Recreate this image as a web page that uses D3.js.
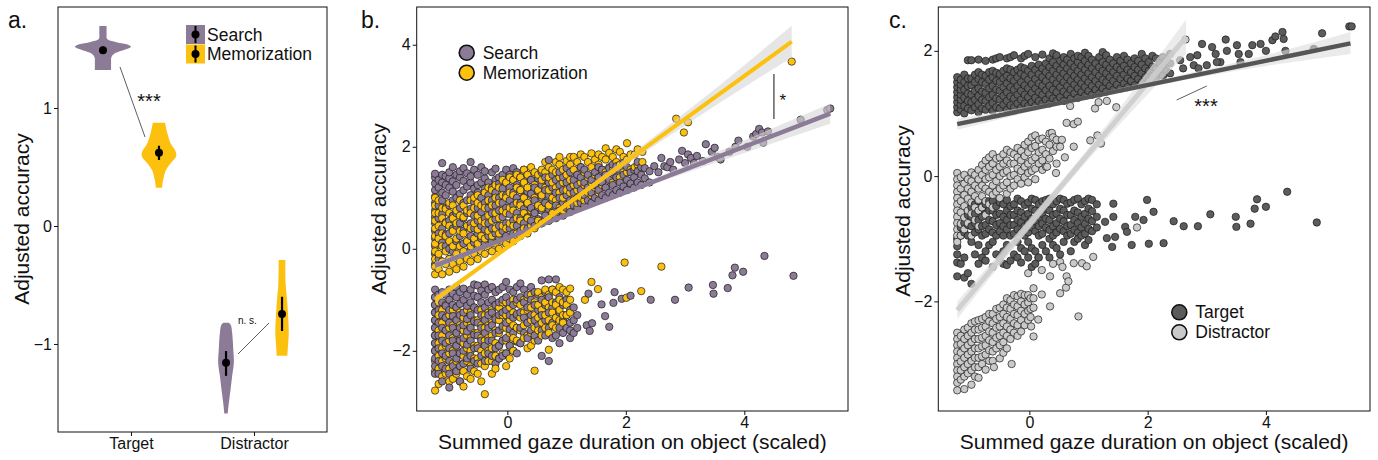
<!DOCTYPE html>
<html>
<head>
<meta charset="utf-8">
<script src="https://cdn.jsdelivr.net/npm/d3@7"></script>
<style>
body { margin: 0; background: #fff; }
text { font-family: "Liberation Sans", Arial, Helvetica, sans-serif; fill: #111; }
</style>
</head>
<body>
<script>
const width = 1378;
const height = 460;
const svg = d3.select('body').append('svg').attr('width', width).attr('height', height);

const colSearch = '#8c7b96';
const colMemo = '#fcc10f';
const colTarget = '#5c5c5c';
const colDistr = '#cacaca';

// ---------------- panel a data ----------------
const aConds = ['Target', 'Distractor'];
const aGroups = ['Search', 'Memorization'];
const aYTicks = [-1, 0, 1];
// [value, relative density]
const violinTargetSearch = [[1.695,0.13],[1.63,0.13],[1.585,0.15],[1.56,0.45],[1.54,0.85],[1.52,1.0],[1.5,0.85],[1.48,0.6],[1.455,0.38],[1.43,0.3],[1.38,0.29],[1.322,0.29]];
const violinTargetMemo = [[0.875,0.22],[0.785,0.3],[0.70,0.42],[0.63,0.6],[0.588,0.61],[0.532,0.42],[0.475,0.25],[0.39,0.15],[0.325,0.11]];
const violinDistrSearch = [[-0.82,0.1],[-0.84,0.17],[-0.91,0.22],[-1.05,0.26],[-1.16,0.28],[-1.27,0.22],[-1.39,0.16],[-1.5,0.1],[-1.59,0.06]];
const violinDistrMemo = [[-0.288,0.12],[-0.486,0.13],[-0.628,0.18],[-0.77,0.22],[-0.91,0.24],[-1.025,0.21],[-1.10,0.19]];
const aMeans = [
  {cond: 'Target', group: 'Search', mean: 1.49, lo: 1.46, hi: 1.52},
  {cond: 'Target', group: 'Memorization', mean: 0.62, lo: 0.56, hi: 0.68},
  {cond: 'Distractor', group: 'Search', mean: -1.16, lo: -1.27, hi: -1.06},
  {cond: 'Distractor', group: 'Memorization', mean: -0.745, lo: -0.89, hi: -0.60}
];

// ---------------- panel b data ----------------
// columns: [x, [y values]]
const bSearchUpCols = [
  [-1.22,[-0.3,-0.1,0.05,0.2,0.35,0.5,0.62,0.75,0.9,1.02,1.15,1.28,1.4,1.47]],
  [-1.16,[-0.2,0.3,0.6,0.85,1.2,1.35]],
  [-1.1,[-0.25,0.12,0.4,0.68,0.95,1.1,1.3,1.45,1.68]],
  [-1.04,[0.05,0.28,0.52,0.8,1.05,1.25,1.42]],
  [-0.98,[-0.2,0.0,0.3,0.55,0.85,1.2,1.38,1.5]],
  [-0.92,[-0.05,0.4,0.65,0.95,1.12,1.32,1.6]],
  [-0.86,[-0.15,0.15,0.45,0.7,1.0,1.25,1.45]],
  [-0.8,[0.05,0.25,0.5,0.8,1.08,1.4,1.52]],
  [-0.74,[-0.1,0.1,0.35,0.6,0.9,1.15,1.33,1.58]],
  [-0.68,[0.15,0.45,0.7,0.95,1.22,1.48]],
  [-0.62,[0.0,0.25,0.5,0.78,1.05,1.3,1.42,1.7]],
  [-0.56,[0.12,0.4,0.65,0.92,1.18,1.55]],
  [-0.5,[0.05,0.3,0.55,0.8,1.1,1.25,1.45]],
  [-0.44,[0.2,0.45,0.72,1.0,1.3,1.6]],
  [-0.38,[0.1,0.38,0.6,0.9,1.18,1.38,1.52]],
  [-0.32,[0.25,0.5,0.8,1.05,1.3]],
  [-0.26,[0.15,0.4,0.7,0.95,1.2,1.5]],
  [-0.2,[0.3,0.58,0.85,1.1,1.35,1.57]],
  [-0.14,[0.2,0.45,0.75,1.0,1.28,1.4]],
  [-0.08,[0.35,0.62,0.9,1.18,1.45]],
  [-0.02,[0.25,0.5,0.8,1.05,1.3,1.55]],
  [0.04,[0.4,0.68,0.95,1.2,1.45]],
  [0.1,[0.3,0.55,0.85,1.1,1.35,1.58]],
  [0.16,[0.45,0.7,1.0,1.25,1.5]],
  [0.22,[0.35,0.6,0.9,1.15,1.4]],
  [0.28,[0.5,0.78,1.02,1.3,1.55]],
  [0.34,[0.4,0.62,0.88,1.12,1.45]],
  [0.4,[0.55,0.8,1.08,1.35]],
  [0.46,[0.45,0.7,0.95,1.2]],
  [0.52,[0.58,0.85,1.12,1.38]],
  [0.58,[0.5,0.75,1.0,1.25,1.5]],
  [0.64,[0.65,0.9,1.15,1.4]],
  [0.7,[0.55,0.78,1.05,1.3,1.74]],
  [0.76,[0.7,0.95,1.2,1.45]],
  [0.82,[0.6,0.85,1.1,1.35]],
  [0.88,[0.75,1.0,1.25,1.5]],
  [0.94,[0.65,0.9,1.15,1.4]],
  [1.0,[0.8,1.05,1.3,1.58]],
  [1.06,[0.72,0.95,1.2,1.5]],
  [1.12,[0.85,1.1,1.35]],
  [1.18,[0.8,1.0,1.25,1.45]],
  [1.24,[0.9,1.15,1.4,1.6]],
  [1.3,[0.85,1.05,1.3,1.55]],
  [1.36,[0.95,1.2,1.45]],
  [1.42,[0.9,1.1,1.35]],
  [1.48,[1.0,1.25,1.5]],
  [1.54,[0.95,1.15,1.4,1.6]],
  [1.6,[1.05,1.3,1.55]],
  [1.66,[1.0,1.2,1.45]],
  [1.72,[1.1,1.35,1.58]],
  [1.78,[1.05,1.25,1.5,1.65]],
  [1.84,[1.15,1.4,1.62]],
  [1.9,[1.1,1.3,1.55]],
  [1.96,[1.22,1.45,1.68]],
  [2.02,[1.15,1.35,1.6]],
  [2.08,[1.28,1.5]],
  [2.14,[1.2,1.4,1.55]],
  [2.2,[1.3,1.52,1.7]],
  [2.26,[1.25,1.45,1.6]],
  [2.32,[1.38,1.58]],
  [2.4,[1.3,1.52]]
];
const bSearchUpExtra = [[2.55,1.5],[2.65,1.62],[2.75,1.7],[2.8,1.55],[2.9,1.75],[2.95,1.92],[3.05,1.85],[3.15,1.68],[3.2,1.82],[3.3,1.72],[3.35,2.05],[3.45,1.9],[3.5,1.98],[3.55,1.8],[3.6,1.75],[3.75,1.9],[3.85,2.0],[3.9,2.12],[4.05,2.0],[4.15,2.2],[4.2,2.25],[4.25,2.35],[4.3,2.28],[4.32,2.08],[4.4,2.3],[4.95,2.53],[5.4,2.72],[5.45,2.75],[2.48,1.62],[2.6,1.78],[2.7,1.6],[3.0,1.68],[3.1,1.78]];
const bSearchLoCols = [
  [-1.22,[-0.8,-0.95,-1.1,-1.25,-1.4,-1.55,-1.7,-1.85,-2.0,-2.15,-2.3,-2.45]],
  [-1.16,[-0.9,-1.2,-1.45,-1.7,-1.95,-2.2,-2.45]],
  [-1.1,[-0.85,-1.05,-1.3,-1.55,-1.8,-2.05,-2.3,-2.6]],
  [-1.04,[-0.9,-1.12,-1.35,-1.6,-1.85,-2.1,-2.35]],
  [-0.98,[-0.8,-1.0,-1.2,-1.45,-1.7,-1.95,-2.2,-2.45,-2.72]],
  [-0.92,[-0.88,-1.1,-1.32,-1.55,-1.8,-2.05,-2.3]],
  [-0.86,[-0.75,-0.95,-1.15,-1.4,-1.65,-1.9,-2.15,-2.4]],
  [-0.8,[-0.85,-1.08,-1.3,-1.55,-1.8,-2.05,-2.3,-2.6]],
  [-0.74,[-0.78,-1.0,-1.25,-1.5,-1.75,-2.0,-2.25]],
  [-0.68,[-0.9,-1.12,-1.38,-1.62,-1.88,-2.15]],
  [-0.62,[-0.8,-1.05,-1.3,-1.55,-1.8,-2.1,-2.35]],
  [-0.56,[-0.7,-0.92,-1.15,-1.42,-1.68,-1.95,-2.2]],
  [-0.5,[-0.72,-0.95,-1.2,-1.45,-1.7,-1.95,-2.25]],
  [-0.44,[-0.82,-1.05,-1.3,-1.55,-1.8,-2.1]],
  [-0.38,[-0.7,-0.9,-1.15,-1.4,-1.65,-1.9,-2.2]],
  [-0.32,[-0.8,-1.05,-1.3,-1.55,-1.8,-2.05]],
  [-0.26,[-0.75,-1.0,-1.25,-1.5,-1.8,-2.1]],
  [-0.2,[-0.85,-1.1,-1.38,-1.65,-1.95,-2.25]],
  [-0.14,[-0.8,-1.05,-1.3,-1.6,-1.9,-2.15]],
  [-0.08,[-0.75,-1.0,-1.25,-1.52,-1.8,-2.1]],
  [-0.02,[-0.65,-0.95,-1.2,-1.45,-1.75,-2.05]],
  [0.04,[-0.8,-1.05,-1.3,-1.58,-1.9]],
  [0.1,[-0.85,-1.1,-1.35,-1.65,-2.0]],
  [0.16,[-0.75,-1.0,-1.28,-1.55,-1.82,-2.05]],
  [0.22,[-0.68,-0.95,-1.25,-1.55,-1.85]],
  [0.28,[-0.8,-1.05,-1.35,-1.65]],
  [0.34,[-0.9,-1.15,-1.45,-1.75]],
  [0.4,[-0.75,-1.0,-1.3,-1.6]],
  [0.46,[-0.85,-1.1,-1.4,-1.7]],
  [0.52,[-0.9,-1.2,-1.5,-1.8]],
  [0.58,[-0.62,-1.0,-1.3,-1.6,-2.1]],
  [0.64,[-0.85,-1.1,-1.4,-1.7]],
  [0.7,[-0.6,-0.95,-1.25,-1.55,-2.2]],
  [0.76,[-0.8,-1.15,-1.45,-1.75]],
  [0.82,[-0.6,-1.05,-1.35,-1.7]],
  [0.88,[-0.95,-1.25,-1.55,-1.85]],
  [0.94,[-1.1,-1.4,-1.65]],
  [1.0,[-1.0,-1.3,-1.55]],
  [1.06,[-1.2,-1.45,-1.75,-1.6]],
  [1.12,[-1.15,-1.4,-1.65]],
  [1.18,[-1.3,-1.55]]
];
const bSearchLoExtra = [[1.37,-0.88],[1.34,-1.5],[1.39,-1.61],[1.43,-1.46],[1.59,-1.09],[1.65,-1.32],[1.72,-1.53],[1.79,-1.06],[1.81,-0.85],[1.93,-0.98],[2.08,-0.92],[2.42,-1.0],[2.83,-1.0],[3.06,-0.76],[3.47,-0.71],[3.48,-0.88],[3.72,-0.77],[3.8,-0.52],[3.84,-0.37],[3.98,-0.45],[4.34,-0.14],[4.83,-0.53]];
const bMemoUpCols = [
  [-1.22,[-0.5,-0.35,-0.2,-0.05,0.1,0.25,0.4,0.55,0.7,0.85,1.0]],
  [-1.16,[-0.4,-0.1,0.2,0.45,0.7,0.95]],
  [-1.1,[-0.5,-0.25,0.05,0.3,0.6,0.8]],
  [-1.04,[-0.3,-0.05,0.25,0.5,0.78]],
  [-0.98,[-0.45,-0.2,0.15,0.45,0.7,0.9]],
  [-0.92,[-0.3,0.05,0.35,0.6,0.85]],
  [-0.86,[-0.4,-0.1,0.2,0.5,0.75]],
  [-0.8,[-0.25,0.05,0.35,0.65,0.95]],
  [-0.74,[-0.35,-0.05,0.3,0.62,0.85]],
  [-0.68,[-0.2,0.15,0.45,0.75]],
  [-0.62,[-0.25,0.05,0.4,0.7,0.95]],
  [-0.56,[-0.1,0.2,0.5,0.8,1.0]],
  [-0.5,[-0.2,0.1,0.38,0.65,0.9,1.05]],
  [-0.44,[-0.05,0.25,0.55,0.85]],
  [-0.38,[-0.1,0.2,0.5,0.8,1.1]],
  [-0.32,[0.05,0.35,0.65,0.95,1.2]],
  [-0.26,[-0.05,0.25,0.55,0.85,1.15]],
  [-0.2,[0.1,0.4,0.7,1.0,1.25]],
  [-0.14,[0.0,0.3,0.6,0.9,1.2]],
  [-0.08,[0.15,0.45,0.75,1.05,1.35]],
  [-0.02,[0.1,0.4,0.7,1.0,1.3]],
  [0.04,[0.2,0.5,0.8,1.1,1.4]],
  [0.1,[0.15,0.45,0.75,1.05,1.35]],
  [0.16,[0.3,0.6,0.9,1.2,1.45]],
  [0.22,[0.25,0.55,0.85,1.15,1.4]],
  [0.28,[0.4,0.7,1.0,1.3,1.55]],
  [0.34,[0.3,0.6,0.9,1.2,1.45]],
  [0.4,[0.45,0.75,1.05,1.35,1.6]],
  [0.46,[0.4,0.7,1.0,1.25,1.5]],
  [0.52,[0.55,0.85,1.15,1.45]],
  [0.58,[0.5,0.8,1.05,1.35,1.55]],
  [0.64,[0.6,0.9,1.2,1.5,1.7]],
  [0.7,[0.55,0.85,1.15,1.4,1.6]],
  [0.76,[0.7,1.0,1.3,1.55]],
  [0.82,[0.65,0.95,1.2,1.5,1.7]],
  [0.88,[0.8,1.1,1.4,1.65,1.8]],
  [0.94,[0.75,1.0,1.3,1.55]],
  [1.0,[0.85,1.15,1.45,1.72]],
  [1.06,[0.8,1.1,1.35,1.65,1.8]],
  [1.12,[0.95,1.25,1.55,1.8]],
  [1.18,[0.9,1.15,1.45,1.7]],
  [1.24,[1.0,1.3,1.6,1.85]],
  [1.3,[0.95,1.25,1.5,1.8]],
  [1.36,[1.1,1.4,1.7]],
  [1.42,[1.05,1.3,1.6,1.87]],
  [1.48,[1.2,1.45,1.75]],
  [1.54,[1.1,1.4,1.65,1.85]],
  [1.6,[1.25,1.55,1.8]],
  [1.66,[1.2,1.5,1.75,1.97]],
  [1.72,[1.35,1.6,1.88]],
  [1.78,[1.3,1.55,1.8]],
  [1.84,[1.4,1.7,1.95]],
  [1.9,[1.4,1.65,1.9]],
  [1.96,[1.5,1.8]],
  [2.02,[1.5,1.75,2.07]],
  [2.08,[1.55,1.85]],
  [2.15,[1.6,1.85]],
  [2.2,[1.65,1.95]],
  [2.28,[1.7,1.9]]
];
const bMemoUpExtra = [[2.85,2.55],[3.05,2.48],[2.98,2.28],[4.8,3.67]];
const bMemoLoCols = [
  [-1.22,[-0.95,-1.1,-1.25,-1.4,-1.55,-1.7,-1.85,-2.0,-2.2,-2.4,-2.78]],
  [-1.16,[-1.05,-1.3,-1.6,-1.85,-2.1,-2.35,-2.65]],
  [-1.1,[-1.2,-1.45,-1.7,-1.95,-2.2,-2.5]],
  [-1.04,[-1.1,-1.35,-1.6,-1.9,-2.15,-2.45]],
  [-0.98,[-1.3,-1.55,-1.8,-2.05,-2.35,-2.6]],
  [-0.92,[-1.2,-1.5,-1.75,-2.0,-2.25,-2.55]],
  [-0.86,[-1.15,-1.4,-1.65,-1.9,-2.2,-2.45]],
  [-0.8,[-1.25,-1.5,-1.8,-2.05,-2.3,-2.6]],
  [-0.74,[-1.35,-1.6,-1.85,-2.1,-2.4,-2.7]],
  [-0.68,[-1.2,-1.45,-1.7,-1.95,-2.2,-2.5]],
  [-0.62,[-1.25,-1.5,-1.75,-2.0,-2.3,-2.55]],
  [-0.56,[-1.15,-1.4,-1.65,-1.9,-2.15,-2.4]],
  [-0.5,[-1.4,-1.65,-1.9,-2.15,-2.45]],
  [-0.44,[-1.2,-1.5,-1.75,-2.0,-2.25,-2.6]],
  [-0.38,[-1.3,-1.55,-1.8,-2.05,-2.3,-2.85]],
  [-0.32,[-1.25,-1.5,-1.75,-2.0,-2.2]],
  [-0.26,[-1.2,-1.45,-1.7,-1.95,-2.2,-2.45]],
  [-0.2,[-1.1,-1.35,-1.6,-1.85,-2.1,-2.35]],
  [-0.14,[-1.15,-1.4,-1.65,-1.9,-2.15]],
  [-0.08,[-1.05,-1.3,-1.55,-1.8,-2.05]],
  [-0.02,[-1.05,-1.3,-1.55,-1.8,-2.05,-2.3]],
  [0.04,[-1.15,-1.4,-1.65,-1.9,-2.15]],
  [0.1,[-1.0,-1.25,-1.5,-1.75,-2.0]],
  [0.16,[-1.05,-1.3,-1.55,-1.8]],
  [0.22,[-1.1,-1.35,-1.6,-1.85]],
  [0.28,[-1.0,-1.25,-1.5,-1.75]],
  [0.34,[-0.95,-1.2,-1.45,-1.7,-1.95]],
  [0.4,[-0.9,-1.15,-1.4,-1.65,-1.9]],
  [0.46,[-1.05,-1.3,-1.55,-1.8,-2.39]],
  [0.52,[-0.85,-1.1,-1.35,-1.6]],
  [0.58,[-0.95,-1.2,-1.45,-1.7]],
  [0.64,[-0.8,-1.05,-1.3,-1.55]],
  [0.7,[-0.9,-1.15,-1.4,-1.65,-1.98]],
  [0.76,[-0.8,-1.05,-1.25,-1.5]],
  [0.82,[-0.85,-1.1,-1.35,-1.55]],
  [0.88,[-0.75,-1.0,-1.2,-1.4]],
  [0.94,[-0.8,-1.05,-1.3,-1.45]],
  [1.0,[-0.85,-1.1,-1.3]],
  [1.06,[-0.78,-1.0,-1.25]]
];
const bMemoLoExtra = [[1.31,-1.0],[1.42,-0.65],[1.53,-0.79],[1.98,-0.27],[2.01,-0.96],[2.26,-0.83],[2.6,-0.35]];
const bFitSearch = [[-1.22,-0.33],[5.45,2.65]];
const bFitMemo = [[-1.22,-1.0],[4.8,4.06]];
// [x, lower, upper]
const bBandSearch = [[-1.22,-0.4,-0.26],[0.5,0.41,0.47],[2,1.07,1.15],[3.5,1.68,1.88],[5.45,2.45,2.85]];
const bBandMemo = [[-1.22,-1.07,-0.93],[0.5,0.41,0.48],[2,1.64,1.78],[3.5,2.8,3.13],[4.8,3.75,4.37]];

// ---------------- panel c data ----------------
const cTargetUpCols = [
  [-1.22,[1.02,1.1,1.18,1.26,1.34,1.42,1.5,1.58]],
  [-1.16,[1.06,1.14,1.22,1.3,1.38,1.46,1.54]],
  [-1.1,[1.0,1.12,1.25,1.38,1.5,1.62]],
  [-1.04,[1.08,1.2,1.32,1.44,1.56,1.85]],
  [-0.98,[1.05,1.18,1.3,1.45,1.56,1.85]],
  [-0.92,[1.1,1.22,1.36,1.5,1.62]],
  [-0.86,[1.02,1.15,1.28,1.4,1.55,1.66,1.86]],
  [-0.8,[1.08,1.22,1.35,1.5,1.62]],
  [-0.74,[1.06,1.2,1.33,1.47,1.6,1.84]],
  [-0.68,[1.12,1.26,1.4,1.54,1.66]],
  [-0.62,[1.04,1.17,1.3,1.44,1.58,1.68,1.86]],
  [-0.56,[1.1,1.24,1.38,1.52,1.65,1.88]],
  [-0.5,[1.08,1.22,1.36,1.5,1.63,1.9]],
  [-0.44,[1.14,1.28,1.42,1.56,1.68]],
  [-0.38,[1.06,1.2,1.34,1.48,1.6,1.72,1.88]],
  [-0.32,[1.13,1.27,1.42,1.56,1.7,1.9]],
  [-0.26,[1.1,1.24,1.38,1.52,1.66,1.93]],
  [-0.2,[1.16,1.3,1.44,1.58,1.7]],
  [-0.14,[1.09,1.22,1.36,1.5,1.64,1.74,1.88]],
  [-0.08,[1.16,1.3,1.45,1.6,1.72,1.92]],
  [-0.02,[1.12,1.26,1.4,1.54,1.68,1.95]],
  [0.04,[1.18,1.33,1.47,1.62,1.76]],
  [0.1,[1.12,1.25,1.4,1.55,1.7,1.9]],
  [0.16,[1.2,1.34,1.48,1.63,1.78]],
  [0.22,[1.16,1.3,1.44,1.58,1.72,1.94]],
  [0.28,[1.22,1.37,1.52,1.66,1.8]],
  [0.34,[1.16,1.3,1.44,1.6,1.74,1.88]],
  [0.4,[1.24,1.38,1.54,1.68,1.82,1.96]],
  [0.46,[1.2,1.34,1.48,1.62,1.76,1.93]],
  [0.52,[1.26,1.42,1.56,1.7,1.84]],
  [0.58,[1.2,1.35,1.5,1.64,1.78,1.9]],
  [0.64,[1.3,1.44,1.58,1.72,1.86]],
  [0.7,[1.24,1.38,1.52,1.66,1.8,1.95]],
  [0.76,[1.32,1.46,1.6,1.74,1.88]],
  [0.82,[1.25,1.4,1.54,1.68,1.82,1.92]],
  [0.88,[1.34,1.48,1.62,1.76,1.9]],
  [0.94,[1.28,1.42,1.56,1.7,1.84,1.97]],
  [1.0,[1.36,1.5,1.64,1.78,1.92]],
  [1.06,[1.3,1.44,1.58,1.72,1.86]],
  [1.12,[1.38,1.52,1.66,1.8]],
  [1.18,[1.32,1.46,1.6,1.74,1.9]],
  [1.24,[1.4,1.54,1.68,1.82,1.98]],
  [1.3,[1.35,1.5,1.64,1.78,1.93]],
  [1.36,[1.44,1.58,1.72,1.86]],
  [1.42,[1.38,1.52,1.66,1.8]],
  [1.48,[1.46,1.6,1.74,1.9]],
  [1.54,[1.4,1.55,1.7,1.84]],
  [1.6,[1.48,1.62,1.76,1.92]],
  [1.66,[1.42,1.56,1.7,1.86]],
  [1.72,[1.52,1.66,1.8]],
  [1.78,[1.45,1.6,1.74,1.88]],
  [1.84,[1.55,1.7,1.84]],
  [1.9,[1.5,1.64,1.78,1.95]],
  [1.96,[1.58,1.72,1.88]],
  [2.02,[1.52,1.68,1.82]],
  [2.08,[1.6,1.75,1.92]],
  [2.14,[1.56,1.72,1.88]],
  [2.2,[1.64,1.8]],
  [2.26,[1.6,1.76,1.9]],
  [2.32,[1.68,1.84]],
  [2.38,[1.64,1.8,1.95]]
];
const cTargetUpExtra = [[2.92,2.11],[3.09,2.06],[3.15,1.95],[3.23,1.82],[3.32,2.18],[3.34,2.0],[3.51,2.09],[3.54,1.95],[3.71,1.95],[3.77,2.09],[3.91,2.11],[4.0,2.0],[4.11,2.17],[4.16,2.23],[4.28,2.3],[4.3,2.19],[4.33,2.0],[4.81,2.03],[4.95,2.28],[5.41,2.39],[5.45,2.39],[2.78,1.77],[2.84,1.93],[2.72,1.9],[3.0,1.77],[3.17,1.82],[3.57,1.82],[2.86,1.72],[2.55,1.85],[2.6,1.72]];
const cTargetLoCols = [
  [-1.22,[-1.0,-1.12,-1.25,-1.38,-1.6]],
  [-1.16,[-0.82,-0.95,-1.4]],
  [-1.1,[-0.75,-0.9,-1.3,-1.62]],
  [-1.04,[-0.62,-0.78,-0.95,-1.55]],
  [-0.98,[-0.5,-0.65,-0.8,-1.05,-1.72]],
  [-0.92,[-0.45,-0.6,-0.75,-0.9,-1.25]],
  [-0.86,[-0.4,-0.55,-0.7,-0.85,-1.1,-1.4]],
  [-0.8,[-0.5,-0.65,-0.8,-0.95,-1.3]],
  [-0.74,[-0.45,-0.6,-0.78,-0.92,-1.2,-1.35]],
  [-0.68,[-0.4,-0.55,-0.7,-0.85,-1.1]],
  [-0.62,[-0.4,-0.55,-0.72,-0.9,-1.05,-1.45]],
  [-0.56,[-0.48,-0.62,-0.78,-0.95,-1.25]],
  [-0.5,[-0.42,-0.6,-0.75,-0.88,-1.3]],
  [-0.44,[-0.45,-0.65,-0.8,-0.95,-1.2,-1.4]],
  [-0.38,[-0.38,-0.55,-0.7,-0.85,-1.1,-1.42]],
  [-0.32,[-0.48,-0.62,-0.78,-0.95,-1.35]],
  [-0.26,[-0.45,-0.62,-0.78,-0.92,-1.25]],
  [-0.2,[-0.36,-0.55,-0.7,-0.85,-1.05,-1.3]],
  [-0.14,[-0.4,-0.58,-0.74,-0.9,-1.15,-1.38]],
  [-0.08,[-0.46,-0.65,-0.8,-0.95,-1.2]],
  [-0.02,[-0.42,-0.6,-0.75,-0.9,-1.05,-1.3]],
  [0.04,[-0.36,-0.52,-0.68,-0.82,-1.15,-1.45]],
  [0.1,[-0.38,-0.55,-0.72,-0.88,-1.2,-1.4]],
  [0.16,[-0.45,-0.65,-0.8,-0.95,-1.3]],
  [0.22,[-0.4,-0.6,-0.76,-0.92,-1.1]],
  [0.28,[-0.38,-0.52,-0.68,-0.82,-1.2]],
  [0.34,[-0.36,-0.55,-0.7,-0.86,-1.0,-1.3]],
  [0.4,[-0.45,-0.62,-0.8,-0.95,-1.1]],
  [0.46,[-0.4,-0.6,-0.75,-0.9,-1.15]],
  [0.52,[-0.36,-0.52,-0.68,-0.84,-1.25]],
  [0.58,[-0.38,-0.55,-0.72,-0.88,-1.05]],
  [0.64,[-0.44,-0.62,-0.8,-0.95]],
  [0.7,[-0.42,-0.62,-0.78,-0.92,-1.2]],
  [0.76,[-0.38,-0.55,-0.7,-0.86,-1.05]],
  [0.82,[-0.36,-0.58,-0.75,-0.9,-1.0]],
  [0.88,[-0.45,-0.65,-0.82,-0.95]],
  [0.94,[-0.4,-0.6,-0.76,-0.92,-1.1]],
  [1.0,[-0.36,-0.52,-0.68,-0.84,-1.02]],
  [1.06,[-0.38,-0.56,-0.72,-0.88]],
  [1.14,[-0.45,-0.65,-0.82]]
];
const cTargetLoExtra = [[1.42,-0.44],[1.99,-0.38],[2.1,-0.57],[1.93,-0.7],[1.79,-0.65],[1.62,-0.81],[1.65,-0.89],[1.73,-1.1],[2.02,-1.08],[2.27,-1.07],[2.44,-0.72],[2.61,-0.8],[2.85,-0.8],[3.06,-0.61],[3.49,-0.65],[3.5,-0.81],[3.74,-0.76],[3.81,-0.52],[3.85,-0.37],[4.0,-0.49],[4.36,-0.25],[4.86,-0.74],[1.42,-0.65],[1.45,-0.97],[1.31,-0.99],[1.4,-1.13],[1.28,-0.73]];
const cDistrUpCols = [
  [-1.22,[0.05,-0.05,-0.15,-0.25,-0.35,-0.45,-0.55,-0.65,-0.75,-0.85,-0.95,-1.05]],
  [-1.16,[-0.02,-0.2,-0.4,-0.58,-0.76,-0.95]],
  [-1.1,[0.02,-0.12,-0.3,-0.48,-0.66,-0.85]],
  [-1.04,[-0.05,-0.2,-0.36,-0.55,-0.75]],
  [-0.98,[0.06,-0.08,-0.25,-0.42,-0.6,-0.95]],
  [-0.92,[0.02,-0.15,-0.32,-0.5,-0.7]],
  [-0.86,[0.1,-0.05,-0.2,-0.38,-0.55,-0.8]],
  [-0.8,[0.18,0.02,-0.15,-0.32,-0.5]],
  [-0.74,[0.25,0.1,-0.05,-0.2,-0.4,-0.62]],
  [-0.68,[0.3,0.15,-0.02,-0.25,-0.45]],
  [-0.62,[0.35,0.2,0.02,-0.15,-0.3,-0.5]],
  [-0.56,[0.28,0.1,-0.08,-0.25]],
  [-0.5,[0.3,0.15,0.0,-0.2,-0.35]],
  [-0.44,[0.35,0.2,0.05,-0.15]],
  [-0.38,[0.42,0.25,0.08,-0.1,-0.28]],
  [-0.32,[0.38,0.2,0.0,-0.2]],
  [-0.26,[0.35,0.2,0.02,-0.15]],
  [-0.2,[0.45,0.3,0.12,-0.05]],
  [-0.14,[0.4,0.25,0.08,-0.12]],
  [-0.08,[0.5,0.32,0.15,-0.02]],
  [-0.02,[0.55,0.38,0.2,0.05,-0.1]],
  [0.04,[0.62,0.45,0.25,0.08]],
  [0.1,[0.65,0.48,0.3,0.12,-0.05]],
  [0.16,[0.58,0.38,0.2]],
  [0.22,[0.6,0.42,0.25,0.1]],
  [0.28,[0.55,0.35,0.15]],
  [0.34,[0.68,0.5,0.28]],
  [0.4,[0.62,0.4]],
  [0.46,[0.47,0.58,0.2]]
];
const cDistrUpExtra = [[1.11,1.08],[1.17,1.18],[1.31,1.2],[1.47,1.1],[0.69,1.12],[0.63,0.85],[0.75,0.83],[0.82,0.87],[1.03,0.57],[1.15,0.65],[1.21,0.52],[0.75,0.47],[0.52,0.47],[0.55,0.58],[0.38,0.69],[0.6,0.3],[0.3,0.15],[0.45,0.05],[2.64,2.18],[1.82,-0.82],[0.52,-1.37],[0.56,-1.45],[0.63,-1.6],[0.66,-1.68],[0.52,-1.87],[0.35,-1.6],[0.21,-1.5],[0.07,-1.79],[0.21,-1.89],[0.35,-2.08],[0.83,-2.24],[0.89,-1.39],[0.75,-1.39],[0.97,-1.44],[1.08,-1.29],[0.62,-1.78],[0.4,-1.4],[-0.02,-1.55],[0.15,-1.3]];
const cDistrLoCols = [
  [-1.22,[-2.5,-2.6,-2.7,-2.8,-2.9,-3.0,-3.1,-3.2,-3.3,-3.42]],
  [-1.16,[-2.55,-2.68,-2.82,-2.96,-3.1,-3.25]],
  [-1.1,[-2.45,-2.6,-2.75,-2.9,-3.05,-3.2,-3.4]],
  [-1.04,[-2.42,-2.55,-2.7,-2.85,-3.0,-3.15]],
  [-0.98,[-2.35,-2.5,-2.65,-2.8,-2.95,-3.1,-3.33]],
  [-0.92,[-2.32,-2.45,-2.6,-2.75,-2.9,-3.05,-3.2]],
  [-0.86,[-2.3,-2.45,-2.6,-2.75,-2.9,-3.05,-3.22]],
  [-0.8,[-2.28,-2.42,-2.58,-2.72,-2.88,-3.0]],
  [-0.74,[-2.25,-2.4,-2.55,-2.7,-2.85,-3.09]],
  [-0.68,[-2.2,-2.32,-2.48,-2.62,-2.78,-2.95]],
  [-0.62,[-2.2,-2.35,-2.5,-2.65,-2.8,-2.95]],
  [-0.56,[-2.12,-2.28,-2.42,-2.58,-2.75]],
  [-0.5,[-2.1,-2.25,-2.4,-2.55,-2.7,-2.91]],
  [-0.44,[-2.05,-2.2,-2.35,-2.5,-2.65,-2.82]],
  [-0.38,[-1.95,-2.1,-2.25,-2.4,-2.55,-2.75]],
  [-0.32,[-1.98,-2.12,-2.28,-2.45,-2.6]],
  [-0.26,[-1.9,-2.05,-2.2,-2.35,-2.5]],
  [-0.2,[-1.92,-2.08,-2.22,-2.38,-2.55]],
  [-0.14,[-1.88,-2.0,-2.15,-2.3,-2.48]],
  [-0.08,[-1.9,-2.05,-2.2,-2.38]],
  [-0.02,[-1.9,-2.02,-2.15,-2.3]],
  [0.02,[-1.95,-2.12,-2.25]],
  [0.07,[-1.95,-2.1,-2.56]],
  [0.15,[-2.29]]
];
const cDistrLoExtra = [[-0.3,-3.0],[-0.6,-3.05],[0.03,-2.4]];
const cFitTarget = [[-1.22,0.83],[5.43,2.12]];
const cFitDistr = [[-1.22,-2.14],[2.65,2.22]];
const cBandTarget = [[-1.22,0.74,0.92],[0.5,1.13,1.2],[2,1.42,1.5],[4,1.76,1.93],[5.43,1.95,2.3]];
const cBandDistr = [[-1.22,-2.28,-2.0],[0,-0.85,-0.68],[1,0.27,0.45],[2.65,1.95,2.5]];

const xTicksBC = [0, 2, 4];

// ---------------- helpers ----------------
// [x, y, colour, rank inside its column]
function flat(cols, extra, col) {
  return cols.flatMap(([x, ys]) => ys.map((y, j) => [x, y, col, (j + 0.5) / ys.length]))
    .concat(extra.map(p => [p[0], p[1], col, 0.5]));
}
// draw two groups column by column, alternating inside a column
function mix(a, b) {
  return a.concat(b).sort((u, v) => (u[0] - v[0]) || (u[3] - v[3]));
}
function yAxis(g, ys, left, ticks) {
  const ax = g.append('g').attr('transform', `translate(${left},0)`)
    .call(d3.axisLeft(ys).tickValues(ticks).tickSize(4).tickPadding(2).tickFormat(d3.format('d')));
  ax.select('.domain').remove();
  ax.selectAll('line').attr('stroke', '#111');
  ax.selectAll('text').style('font-size', '16px').attr('fill', '#111');
}
function xAxisBottom(g, xs, bottom, ticks) {
  const ax = g.append('g').attr('transform', `translate(0,${bottom})`)
    .call(d3.axisBottom(xs).tickValues(ticks).tickSize(4).tickPadding(2).tickFormat(d3.format('d')));
  ax.select('.domain').remove();
  ax.selectAll('line').attr('stroke', '#111');
  ax.selectAll('text').style('font-size', '16px').attr('fill', '#111');
}
function frame(g, l, t, r, b) {
  g.append('rect').attr('x', l).attr('y', t).attr('width', r - l).attr('height', b - t)
    .attr('fill', 'none').attr('stroke', '#111').attr('stroke-width', 1);
}
function yTitle(g, x, y, txt) {
  g.append('text').attr('transform', `translate(${x},${y}) rotate(-90)`)
    .attr('text-anchor', 'middle').attr('dy', '0.35em').style('font-size', '21px').text(txt);
}
function panelLabel(g, x, y, txt) {
  g.append('text').attr('x', x).attr('y', y).style('font-size', '23px').text(txt);
}
function drawPoints(g, pts, xs, ys) {
  g.selectAll(null).data(pts).enter().append('circle')
    .attr('cx', d => xs(d[0])).attr('cy', d => ys(d[1])).attr('r', 3.7)
    .attr('fill', d => d[2]).attr('stroke', '#1a1a1a').attr('stroke-width', 0.7);
}
function drawBand(g, band, xs, ys, fill, op) {
  g.append('path').datum(band)
    .attr('d', d3.area().x(d => xs(d[0])).y0(d => ys(d[1])).y1(d => ys(d[2])).curve(d3.curveMonotoneX))
    .attr('fill', fill).attr('opacity', op);
}
function drawFit(g, fit, xs, ys, col, w, op) {
  g.append('path').datum(fit)
    .attr('d', d3.line().x(d => xs(d[0])).y(d => ys(d[1])))
    .attr('fill', 'none').attr('stroke', col).attr('stroke-width', w).attr('opacity', op || 1);
}
function circleLegend(g, x, y, items) {
  items.forEach((it, i) => {
    g.append('circle').attr('cx', x).attr('cy', y + i * 20).attr('r', 7.5)
      .attr('fill', it[1]).attr('stroke', '#111').attr('stroke-width', 1.6);
    g.append('text').attr('x', x + 16).attr('y', y + i * 20).attr('dy', '0.35em')
      .style('font-size', '17.5px').text(it[0]);
  });
}

// ---------------- panel a ----------------
(function () {
  const L = 58, R = 327, T = 7, B = 432;
  const g = svg.append('g');
  const ys = d3.scaleLinear().domain([-1.746, 1.856]).range([B, T]);
  const xc = d3.scalePoint().domain(aConds).range([L, R]).padding(0.593);
  const xg = d3.scalePoint().domain(aGroups).range([-28, 28]);
  const wd = d3.scaleLinear().domain([0, 1]).range([0, 28]);
  const color = d3.scaleOrdinal().domain(aGroups).range([colSearch, colMemo]);

  const violins = [
    ['Target', 'Search', violinTargetSearch],
    ['Target', 'Memorization', violinTargetMemo],
    ['Distractor', 'Search', violinDistrSearch],
    ['Distractor', 'Memorization', violinDistrMemo]
  ];
  violins.forEach(([c, grp, prof]) => {
    const cx = xc(c) + xg(grp);
    g.append('path').datum(prof)
      .attr('d', d3.area().y(d => ys(d[0])).x0(d => cx - wd(d[1])).x1(d => cx + wd(d[1])).curve(d3.curveCatmullRom))
      .attr('fill', color(grp));
  });
  aMeans.forEach(m => {
    const cx = xc(m.cond) + xg(m.group);
    g.append('line').attr('x1', cx).attr('x2', cx).attr('y1', ys(m.lo)).attr('y2', ys(m.hi))
      .attr('stroke', '#000').attr('stroke-width', 2.2);
    g.append('circle').attr('cx', cx).attr('cy', ys(m.mean)).attr('r', 4).attr('fill', '#000');
  });

  // significance marks
  g.append('line').attr('x1', 120).attr('y1', 67).attr('x2', 145).attr('y2', 137).attr('stroke', '#333').attr('stroke-width', 0.8);
  g.append('text').attr('x', 149).attr('y', 108).attr('text-anchor', 'middle').style('font-size', '20px').text('***');
  g.append('line').attr('x1', 238).attr('y1', 354).attr('x2', 269).attr('y2', 323).attr('stroke', '#333').attr('stroke-width', 0.8);
  g.append('text').attr('x', 238).attr('y', 324).style('font-size', '10px').text('n. s.');

  frame(g, L, T, R, B);
  yAxis(g, ys, L, aYTicks);
  const ax = g.append('g').attr('transform', `translate(0,${B})`)
    .call(d3.axisBottom(xc).tickSize(4).tickPadding(2));
  ax.select('.domain').remove();
  ax.selectAll('line').attr('stroke', '#111');
  ax.selectAll('text').style('font-size', '16px').attr('fill', '#111');

  // legend
  aGroups.forEach((grp, i) => {
    const y0 = 25 + i * 19.5;
    g.append('rect').attr('x', 186).attr('y', y0).attr('width', 19).attr('height', 19).attr('fill', color(grp));
    g.append('line').attr('x1', 195.5).attr('x2', 195.5).attr('y1', y0 + 1).attr('y2', y0 + 18).attr('stroke', '#000').attr('stroke-width', 2);
    g.append('circle').attr('cx', 195.5).attr('cy', y0 + 9.5).attr('r', 4).attr('fill', '#000');
    g.append('text').attr('x', 207).attr('y', y0 + 9.5).attr('dy', '0.35em').style('font-size', '17.5px').text(grp);
  });

  yTitle(g, 22, 219, 'Adjusted accuracy');
  panelLabel(g, 8, 28, 'a.');
})();

// ---------------- panel b ----------------
(function () {
  const L = 416.7, R = 848, T = 7, B = 411;
  const g = svg.append('g');
  const xs = d3.scaleLinear().domain([-1.53, 5.75]).range([L, R]);
  const ys = d3.scaleLinear().domain([-3.18, 4.74]).range([B, T]);

  drawPoints(g, mix(flat(bSearchUpCols, bSearchUpExtra, colSearch), flat(bMemoUpCols, bMemoUpExtra, colMemo)), xs, ys);
  drawPoints(g, mix(flat(bSearchLoCols, bSearchLoExtra, colSearch), flat(bMemoLoCols, bMemoLoExtra, colMemo)), xs, ys);

  drawBand(g, bBandSearch, xs, ys, '#d6d6d6', 0.6);
  drawBand(g, bBandMemo, xs, ys, '#d6d6d6', 0.6);
  drawFit(g, bFitSearch, xs, ys, colSearch, 4.5);
  drawFit(g, bFitMemo, xs, ys, colMemo, 4);

  g.append('line').attr('x1', xs(4.5)).attr('x2', xs(4.5)).attr('y1', 74).attr('y2', 119).attr('stroke', '#111').attr('stroke-width', 1);
  g.append('text').attr('x', xs(4.65)).attr('y', 106).attr('text-anchor', 'middle').style('font-size', '17px').text('*');

  frame(g, L, T, R, B);
  yAxis(g, ys, L, [-2, 0, 2, 4]);
  xAxisBottom(g, xs, B, xTicksBC);
  circleLegend(g, 466.7, 52.7, [['Search', colSearch], ['Memorization', colMemo]]);

  yTitle(g, 379, 209, 'Adjusted accuracy');
  g.append('text').attr('x', (L + R) / 2).attr('y', 449).attr('text-anchor', 'middle').style('font-size', '21px')
    .text('Summed gaze duration on object (scaled)');
  panelLabel(g, 361, 28, 'b.');
})();

// ---------------- panel c ----------------
(function () {
  const L = 938.3, R = 1370, T = 7, B = 411;
  const g = svg.append('g');
  const xs = d3.scaleLinear().domain([-1.54, 5.76]).range([L, R]);
  const ys = d3.scaleLinear().domain([-3.75, 2.70]).range([B, T]);

  drawPoints(g, flat(cDistrLoCols, cDistrLoExtra, colDistr), xs, ys);
  drawPoints(g, flat(cTargetUpCols, cTargetUpExtra, colTarget), xs, ys);
  drawPoints(g, mix(flat(cTargetLoCols, cTargetLoExtra, colTarget), flat(cDistrUpCols, cDistrUpExtra, colDistr)), xs, ys);

  drawBand(g, cBandDistr, xs, ys, '#e2e2e2', 0.7);
  drawFit(g, cFitDistr, xs, ys, '#cdcdcd', 5, 0.9);
  drawBand(g, cBandTarget, xs, ys, '#dcdcdc', 0.6);
  drawFit(g, cFitTarget, xs, ys, '#555', 4.5);

  g.append('line').attr('x1', 1176.7).attr('y1', 100).attr('x2', 1206.7).attr('y2', 86).attr('stroke', '#333').attr('stroke-width', 0.8);
  g.append('text').attr('x', 1206).attr('y', 113).attr('text-anchor', 'middle').style('font-size', '20px').text('***');

  frame(g, L, T, R, B);
  yAxis(g, ys, L, [-2, 0, 2]);
  xAxisBottom(g, xs, B, xTicksBC);
  circleLegend(g, 1179.3, 312.3, [['Target', colTarget], ['Distractor', colDistr]]);

  yTitle(g, 903, 211, 'Adjusted accuracy');
  g.append('text').attr('x', (L + R) / 2).attr('y', 449).attr('text-anchor', 'middle').style('font-size', '21px')
    .text('Summed gaze duration on object (scaled)');
  panelLabel(g, 889, 28, 'c.');
})();
</script>
</body>
</html>
